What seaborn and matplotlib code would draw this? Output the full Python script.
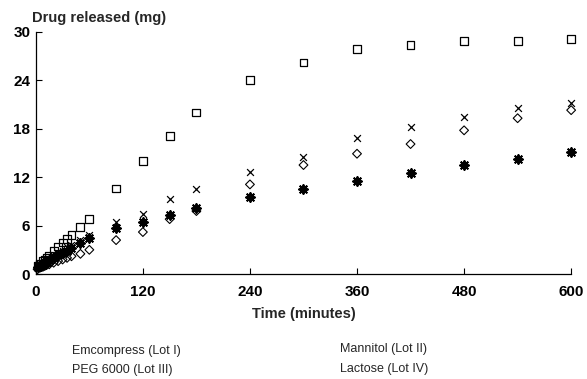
import matplotlib
matplotlib.use("Agg")
import matplotlib.pyplot as plt
import seaborn as sns
import pandas as pd

time_min = [2, 5, 8, 10, 12, 15, 20, 25, 30, 35, 40, 50, 60,
            90, 120, 150, 180, 240, 300, 360, 420, 480, 540, 600]
emcompress = [1.0, 1.3, 1.6, 1.8, 2.0, 2.3, 2.9, 3.4, 3.9, 4.3, 4.8, 5.8, 6.8,
              10.6, 14.0, 17.1, 20.0, 24.0, 26.2, 27.9, 28.4, 28.9, 28.9, 29.1]
mannitol = [1.0, 1.2, 1.4, 1.5, 1.7, 1.9, 2.2, 2.6, 2.9, 3.3, 3.6, 4.2, 4.8,
            6.4, 7.4, 9.3, 10.5, 12.6, 14.5, 16.8, 18.2, 19.4, 20.6, 21.2]
peg6000 = [0.6, 0.8, 0.9, 1.0, 1.1, 1.2, 1.4, 1.6, 1.8, 2.0, 2.2, 2.5, 3.0,
           4.2, 5.2, 6.8, 7.8, 11.1, 13.5, 14.9, 16.1, 17.8, 19.3, 20.3]
lactose = [0.9, 1.1, 1.3, 1.4, 1.5, 1.7, 2.0, 2.3, 2.6, 2.9, 3.2, 3.8, 4.4,
           5.7, 6.4, 7.3, 8.2, 9.6, 10.5, 11.5, 12.5, 13.5, 14.2, 15.1]

x_ticks = [0, 120, 240, 360, 480, 600]
y_ticks = [0, 6, 12, 18, 24, 30]
legend_labels = ["Emcompress (Lot I)", "Mannitol (Lot II)",
                 "PEG 6000 (Lot III)", "Lactose (Lot IV)"]

sns.set_theme(style="white")
plt.rcParams['font.family'] = ['Liberation Sans', 'DejaVu Sans']

fig = plt.figure(figsize=(5.87, 3.79), dpi=100)
ax = fig.add_axes([0.061, 0.277, 0.912, 0.639])

df = pd.DataFrame({"t": time_min, "em": emcompress, "ma": mannitol,
                   "peg": peg6000, "la": lactose})

sns.scatterplot(data=df, x="t", y="em", marker="s", s=32, facecolor="none",
                edgecolor="black", linewidth=0.9, ax=ax, clip_on=False)
sns.scatterplot(data=df, x="t", y="peg", marker="D", s=20, facecolor="none",
                edgecolor="black", linewidth=0.8, ax=ax, clip_on=False)
sns.scatterplot(data=df, x="t", y="ma", marker="x", s=24, color="black",
                linewidth=0.9, ax=ax, clip_on=False)
sns.scatterplot(data=df, x="t", y="la", marker=(8, 2, 0), s=40, color="black",
                linewidth=1.4, ax=ax, clip_on=False)

ax.set_xlim(0, 600)
ax.set_ylim(0, 30)
ax.set_xticks(x_ticks)
ax.set_yticks(y_ticks)
ax.tick_params(axis="both", direction="in", length=4, width=0.8,
               labelsize=11, colors="black", bottom=True, left=True)
for lab in ax.get_xticklabels() + ax.get_yticklabels():
    lab.set_fontweight("bold")
ax.tick_params(axis="x", pad=8)
ax.tick_params(axis="y", pad=4)
ax.set_xlabel("Time (minutes)", fontsize=10.5, fontweight="bold", labelpad=6)
ax.set_ylabel("")
for side in ["top", "right"]:
    ax.spines[side].set_visible(False)
for side in ["left", "bottom"]:
    ax.spines[side].set_color("black")
    ax.spines[side].set_linewidth(0.9)

fig.text(0.055, 0.952, "Drug released (mg)", fontsize=10.5, fontweight="bold",
         ha="left", va="center")

fig.text(0.123, 0.074, legend_labels[0], fontsize=9, ha="left", va="center")
fig.text(0.579, 0.080, legend_labels[1], fontsize=9, ha="left", va="center")
fig.text(0.123, 0.024, legend_labels[2], fontsize=9, ha="left", va="center")
fig.text(0.579, 0.026, legend_labels[3], fontsize=9, ha="left", va="center")

fig.savefig("out.png", dpi=100, facecolor="white")
